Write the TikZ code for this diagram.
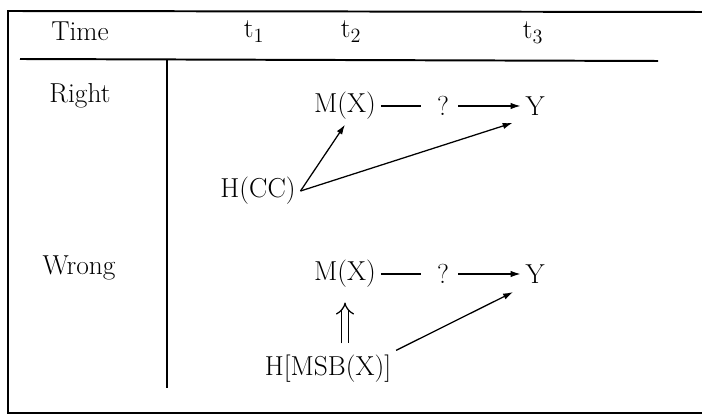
\documentclass[tikz,border=0pt]{standalone}
\usepackage{tikz}
\usetikzlibrary{arrows.meta, positioning}

\begin{document}
\begin{tikzpicture}[x=0.025cm, y=-0.025cm,
    every node/.style={font=\fontsize{19.5}{23}\selectfont},
    rule/.style={line width=1.4pt},
    link/.style={line width=0.9pt},
    conn/.style={link, -{Latex[length=7pt, width=4.5pt]}},
    fat/.style={double, double distance=3.6pt, line width=0.9pt, -{Implies[scale=1.7]}}]
    \useasboundingbox (0,0) rectangle (702,418);
    % frame and table rules
    \draw[rule] (702,12) -- (8,11) -- (8,413) -- (702,413);
    \draw[rule] (20,59) -- (658,61);
    \draw[rule] (167,60) -- (167,388);
    % header
    \node[anchor=base] (time) at (80,41) {Time};
    \node[anchor=base] (tone) at (254,38) {t$_1$};
    \node[anchor=base] (ttwo) at (351,38) {t$_2$};
    \node[anchor=base] (tthree) at (533,39) {t$_3$};
    \node[anchor=base] (right) at (80,103) {Right};
    \node[anchor=base] (wrong) at (79,275) {Wrong};
    % right case
    \node (mxa) at (345,106) {M(X)};
    \node[right of=mxa, node distance=2.45cm] (qa) {?};
    \node[right of=qa, node distance=2.3cm] (ya) {Y};
    \node (hcc) at (258,191) {H(CC)};
    \draw[link, shorten >=8pt] (mxa) -- (qa);
    \draw[conn, shorten <=3pt] (qa) -- (ya);
    \draw[conn] (hcc.east) -- (mxa.south);
    \draw[conn, shorten >=6pt] (hcc.east) -- (ya.south west);
    % wrong case
    \node (mxb) at (345,274) {M(X)};
    \node[right of=mxb, node distance=2.45cm] (qb) {?};
    \node[right of=qb, node distance=2.3cm] (yb) {Y};
    \node (hmsb) at (328,369) {H[MSB(X)]};
    \draw[link, shorten >=8pt] (mxb) -- (qb);
    \draw[conn, shorten <=3pt] (qb) -- (yb);
    \draw[fat, shorten <=5pt, shorten >=7pt] (hmsb.north -| mxb) -- (mxb.south);
    \draw[conn, shorten >=6pt] (hmsb.north east) -- (yb.south west);
\end{tikzpicture}
\end{document}
